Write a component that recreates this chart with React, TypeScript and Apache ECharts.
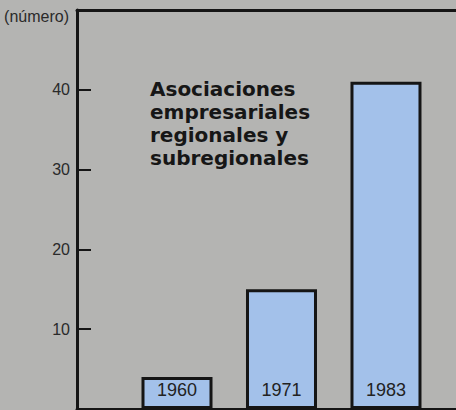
import React, { useEffect, useRef } from "react";
import * as echarts from "echarts";

const years = ["1960", "1971", "1983"];
const counts = [4, 15, 41];
const yTicks = [10, 20, 30, 40];
const unitLabel = "(número)";
const titleLines = ["Asociaciones", "empresariales", "regionales y", "subregionales"];

export default function App() {
  const ref = useRef<HTMLDivElement>(null);
  useEffect(() => {
    if (!ref.current) return;
    const chart = echarts.init(ref.current, null, { renderer: "svg" });
    const xMin = 0.043;
    const xMax = 3.67;
    const lineStyle = { color: "#151515", width: 3 };
    const option: any = {
      animation: false,
      backgroundColor: "#b4b4b2",
      grid: { left: 77, top: 10, right: 0, bottom: 1 },
      xAxis: [
        {
          type: "value",
          min: xMin,
          max: xMax,
          position: "bottom",
          axisLine: { show: true, onZero: false, lineStyle },
          axisTick: { show: false },
          axisLabel: { show: false },
          splitLine: { show: false },
        },
        {
          type: "value",
          min: xMin,
          max: xMax,
          position: "top",
          axisLine: { show: true, onZero: false, lineStyle },
          axisTick: { show: false },
          axisLabel: { show: false },
          splitLine: { show: false },
        },
      ],
      yAxis: {
        type: "value",
        min: 0,
        max: 50,
        interval: 10,
        axisLine: { show: true, onZero: false, lineStyle },
        axisTick: { show: true, inside: true, length: 14, lineStyle: { color: "#151515", width: 2 } },
        axisLabel: {
          margin: 7,
          fontSize: 16,
          color: "#2a2a2a",
          fontFamily: "Liberation Sans, Arial, sans-serif",
          formatter: (v: number) => (yTicks.includes(v) ? String(v) : ""),
        },
        splitLine: { show: false },
      },
      series: [
        {
          type: "bar",
          xAxisIndex: 0,
          barWidth: 71,
          data: counts.map((c, i) => [i + 1, c]),
          itemStyle: { color: "#a3c1ea", borderColor: "#151515", borderWidth: 3 },
          label: {
            show: true,
            position: "insideBottom",
            distance: 10,
            fontSize: 18,
            color: "#222",
            fontFamily: "Liberation Sans, Arial, sans-serif",
            formatter: (p: any) => years[p.dataIndex],
          },
        },
      ],
      graphic: [
        {
          type: "text",
          x: 69,
          y: 16,
          style: {
            text: unitLabel,
            align: "right",
            verticalAlign: "middle",
            fontSize: 16,
            fill: "#2a2a2a",
            fontFamily: "Liberation Sans, Arial, sans-serif",
          },
        },
        {
          type: "text",
          x: 150,
          y: 77,
          style: {
            text: titleLines.join("\n"),
            align: "left",
            verticalAlign: "top",
            fontSize: 20,
            lineHeight: 23,
            fontWeight: "bold",
            fill: "#161616",
            fontFamily: "DejaVu Sans, sans-serif",
          },
        },
      ],
    };
    chart.setOption(option);
    return () => chart.dispose();
  }, []);
  return (
    <div
      ref={ref}
      style={{ position: "absolute", left: 0, top: 0, width: 456, height: 410 }}
    />
  );
}
